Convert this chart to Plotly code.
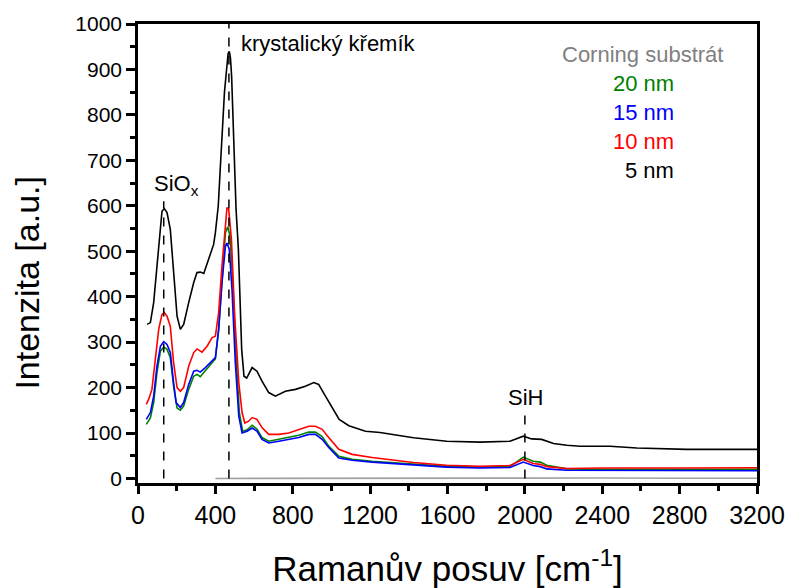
import plotly.graph_objects as go

# ---- data ----
x_5nm = [47, 64, 81, 107, 124, 136, 150, 167, 184, 202, 219, 236, 262, 288, 305, 322, 340, 365, 391, 400,
         415, 425, 435, 447, 458, 466, 472, 478, 484, 493, 501, 507, 519, 527, 536, 548, 562, 590, 615, 641,
         676, 710, 762, 814, 865, 909, 934, 969, 1000, 1040, 1090, 1176, 1251, 1424, 1596, 1768, 1923, 1992, 2035,
         2087, 2148, 2217, 2285, 2440, 2579, 2837, 3000, 3200]
y_5nm = [339, 343, 387, 504, 588, 594, 585, 548, 445, 357, 328, 339, 387, 431, 453, 454, 451, 482, 515, 541,
         600, 680, 770, 850, 900, 935, 940, 925, 885, 775, 665, 592, 504, 394, 284, 225, 221, 244, 236, 214,
         189, 181, 192, 196, 203, 211, 207, 181, 158, 130, 116, 104, 101, 89.5, 82, 80, 82, 93, 87,
         86, 77, 73, 71, 71, 67, 64, 64, 64]

x_10nm = [43, 55, 72, 90, 107, 124, 136, 150, 167, 184, 202, 219, 236, 262, 288, 305, 331, 357, 383, 400,
          417, 434, 452, 460, 469, 483, 500, 521, 538, 552, 572, 590, 615, 641, 676, 728, 779, 831, 883, 917,
          952, 986, 1038, 1107, 1210, 1424, 1596, 1768, 1923, 1992, 2043, 2080, 2113, 2217, 2400, 2800, 3200]
y_10nm = [163, 174, 196, 269, 328, 361, 365, 357, 335, 255, 200, 192, 200, 247, 277, 285, 278, 291, 310, 313,
          365, 467, 555, 596, 592, 526, 357, 211, 145, 122, 126, 134, 130, 112, 97, 97, 100, 108, 115, 115,
          108, 90, 64, 53, 46, 35, 29, 27, 28.5, 42, 33, 31, 26, 22, 23, 23, 23.5]

x_15nm = [43, 64, 81, 98, 116, 133, 150, 167, 184, 197, 219, 236, 262, 288, 305, 322, 348, 383, 400, 417,
          434, 452, 460, 472, 486, 503, 521, 538, 564, 590, 615, 641, 676, 728, 779, 831, 883, 917, 952, 986,
          1038, 1107, 1210, 1424, 1596, 1768, 1923, 1992, 2043, 2080, 2113, 2217, 2400, 2800, 3200]
y_15nm = [130, 145, 181, 247, 291, 301, 295, 277, 211, 167, 156, 167, 207, 236, 238, 234, 244, 260, 266, 328,
          431, 511, 518, 504, 416, 255, 137, 100, 104, 111, 104, 86, 78, 82, 86, 90, 97, 97, 86, 68,
          45, 40, 36, 29, 25, 23, 24, 36, 28.5, 26, 21, 18, 18, 17, 17]

x_20nm = [43, 64, 81, 98, 116, 133, 150, 167, 184, 202, 219, 236, 262, 288, 305, 322, 348, 383, 400, 417,
          434, 452, 464, 476, 490, 507, 524, 541, 564, 590, 615, 641, 676, 728, 779, 831, 883, 917, 952, 986,
          1038, 1107, 1210, 1424, 1596, 1768, 1923, 1992, 2043, 2080, 2113, 2217, 2400, 2800, 3200]
y_20nm = [119, 133, 167, 233, 280, 289, 284, 266, 203, 155, 150, 159, 196, 225, 229, 224, 237, 256, 263, 328,
          438, 541, 554, 533, 431, 269, 145, 104, 107, 117, 109, 90, 82, 86, 90, 95, 102, 102, 92, 71,
          49, 42, 38, 31, 27, 25, 26, 47, 38, 36, 29, 21, 20, 20, 20]

x_corning = [400, 800, 1200, 1600, 2000, 2400, 2800, 3200]
y_corning = [0, 0.5, 1, 1, 1, 1, 0.5, 0.5]

# reference peak markers (position, top of dashed line)
peak_names = ["SiO<sub>x</sub>", "krystalický křemík", "SiH"]
peak_x = [133, 470, 2000]
peak_top = [610, 1000, 142]

legend_labels = ["Corning substrát", "20 nm", "15 nm", "10 nm", "5 nm"]
legend_colors = ["#808080", "#008000", "#0000ff", "#ff0000", "#000000"]

FONT = "Liberation Sans, Arial, sans-serif"

fig = go.Figure()
series = [
    ("Corning substrát", x_corning, y_corning, "#a0a0a0"),
    ("5 nm", x_5nm, y_5nm, "#000000"),
    ("20 nm", x_20nm, y_20nm, "#008000"),
    ("15 nm", x_15nm, y_15nm, "#0000ff"),
    ("10 nm", x_10nm, y_10nm, "#ff0000"),
]
for name, xs, ys, col in series:
    fig.add_trace(go.Scatter(x=xs, y=ys, mode="lines", name=name,
                             line=dict(color=col, width=1.6), showlegend=False))

# dashed peak lines
for px, pt in zip(peak_x, peak_top):
    fig.add_shape(type="line", xref="x", yref="y", x0=px, x1=px, y0=0, y1=pt,
                  line=dict(color="black", width=1.5, dash="dash"))

# peak labels
fig.add_annotation(x=72, y=645, xref="x", yref="y", text=peak_names[0], showarrow=False,
                   xanchor="left", yanchor="middle", font=dict(family=FONT, size=22, color="black"))
fig.add_annotation(x=522, y=957, xref="x", yref="y", text=peak_names[1], showarrow=False,
                   xanchor="left", yanchor="middle", font=dict(family=FONT, size=22, color="black"))
fig.add_annotation(x=2001, y=178, xref="x", yref="y", text=peak_names[2], showarrow=False,
                   xanchor="center", yanchor="middle", font=dict(family=FONT, size=22, color="black"))

# text legend
leg_x = [3035, 2780, 2780, 2780, 2780]
leg_y = [933, 869, 805, 741, 678]
for lab, col, lx, ly in zip(legend_labels, legend_colors, leg_x, leg_y):
    fig.add_annotation(x=lx, y=ly, xref="x", yref="y", text=lab, showarrow=False,
                       xanchor="right", yanchor="middle", font=dict(family=FONT, size=22, color=col))

# y-axis title (placed like the reference, slightly below the axis centre)
fig.add_annotation(x=-0.179, y=0.437, xref="paper", yref="paper", text="Intenzita [a.u.]",
                   textangle=-90, showarrow=False, xanchor="center", yanchor="middle",
                   font=dict(family=FONT, size=34, color="black"))

axis_common = dict(showline=True, linecolor="black", linewidth=2.5, mirror=True,
                   ticks="outside", tickcolor="black", tickwidth=2.5, showgrid=False, zeroline=False,
                   automargin=False)

fig.update_xaxes(range=[0, 3200], tickmode="array", tickvals=list(range(0, 3201, 400)),
                 ticklen=8, tickfont=dict(family=FONT, size=25, color="black"),
                 minor=dict(ticks="outside", dtick=200, ticklen=5, tickwidth=2.5, tickcolor="black"),
                 title=dict(text="Ramanův posuv [cm<sup>-1</sup>]", font=dict(family=FONT, size=35, color="black"),
                            standoff=30),
                 **axis_common)
fig.update_yaxes(range=[-10, 1000], tickmode="array", tickvals=list(range(0, 1001, 100)),
                 ticklen=9, tickfont=dict(family=FONT, size=21, color="black"),
                 minor=dict(ticks="outside", dtick=50, ticklen=5, tickwidth=2.5, tickcolor="black"),
                 **axis_common)

fig.update_layout(width=791, height=588, margin=dict(l=138, r=34, t=24, b=105),
                  plot_bgcolor="white", paper_bgcolor="white", font=dict(family=FONT))

fig.write_html("out.html")
